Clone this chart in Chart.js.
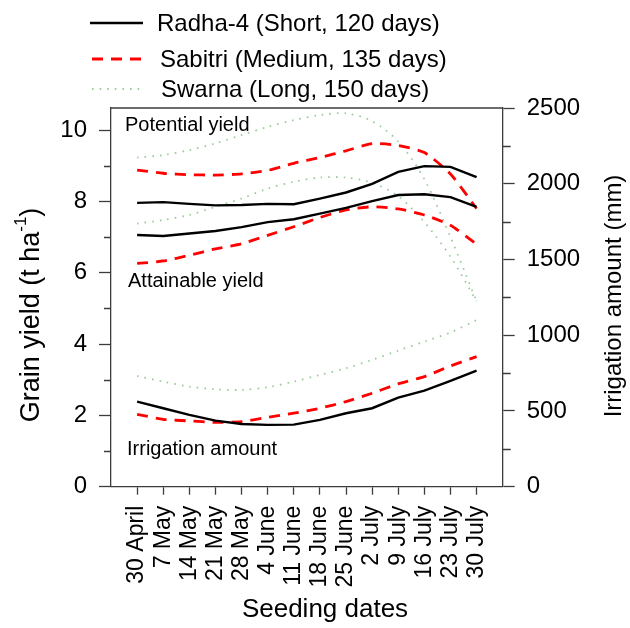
<!DOCTYPE html>
<html>
<head>
<meta charset="utf-8">
<script src="https://cdn.jsdelivr.net/npm/chart.js@4"></script>
<style>
  body { margin: 0; background: #fff; }
  canvas { display: block; }
</style>
</head>
<body>
<canvas id="chart" width="630" height="628"></canvas>
<script>
// seeding dates on the x axis
const dates = ['30 April', '7 May', '14 May', '21 May', '28 May', '4 June', '11 June',
  '18 June', '25 June', '2 July', '9 July', '16 July', '23 July', '30 July'];

// grain yield, t/ha (left axis)
const radhaPotential = [7.96, 7.98, 7.93, 7.89, 7.90, 7.93, 7.92, 8.08, 8.25, 8.49, 8.83, 8.99, 8.97, 8.68];
const radhaAttainable = [7.06, 7.03, 7.10, 7.17, 7.28, 7.42, 7.50, 7.66, 7.82, 8.01, 8.18, 8.20, 8.12, 7.85];
const sabitriPotential = [8.88, 8.79, 8.75, 8.74, 8.77, 8.87, 9.07, 9.23, 9.42, 9.62, 9.57, 9.37, 8.77, 7.80];
const sabitriAttainable = [6.26, 6.33, 6.49, 6.67, 6.81, 7.05, 7.29, 7.55, 7.76, 7.85, 7.79, 7.62, 7.33, 6.80];
const swarnaPotential = [9.23, 9.30, 9.44, 9.63, 9.86, 10.09, 10.28, 10.42, 10.47, 10.25, 9.68, 8.62, 7.00, 5.20];
const swarnaAttainable = [7.38, 7.48, 7.62, 7.85, 8.08, 8.36, 8.55, 8.67, 8.67, 8.52, 8.15, 7.42, 6.45, 5.20];

// irrigation amount, mm (right axis)
const radhaIrrigation = [562, 518, 474, 436, 414, 408, 410, 441, 485, 518, 588, 634, 698, 766];
const sabitriIrrigation = [478, 445, 434, 425, 429, 458, 485, 518, 562, 617, 679, 727, 797, 859];
const swarnaIrrigation = [731, 694, 661, 643, 639, 657, 694, 738, 782, 837, 899, 958, 1018, 1101];

// axis ticks
const yieldTicks = [0, 2, 4, 6, 8, 10];
const yieldMinorTicks = [1, 3, 5, 7, 9];
const irrigationTicks = [0, 500, 1000, 1500, 2000, 2500];
const irrigationMinorTicks = [250, 750, 1250, 1750, 2250];

const legendLabels = ['Radha-4 (Short, 120 days)', 'Sabitri (Medium, 135 days)', 'Swarna (Long, 150 days)'];

const FONT = "'Liberation Sans', Arial, sans-serif";
const AXIS = '#3c3c3c';

const styles = {
  radha: { borderColor: '#000000', borderWidth: 2.4, borderDash: [], tension: 0 },
  sabitri: { borderColor: '#ff0000', borderWidth: 2.8, borderDash: [11, 8], tension: 0.2 },
  swarna: { borderColor: 'rgba(150, 200, 150, 0.95)', borderWidth: 1.8, borderDash: [1.6, 6], tension: 0.3 }
};

function points(arr) {
  return arr.map((v, i) => ({ x: i, y: v }));
}

function line(data, st, axis) {
  return Object.assign({ data: points(data), yAxisID: axis, pointRadius: 0, fill: false }, st);
}

const datasets = [
  line(radhaPotential, styles.radha, 'y'),
  line(radhaAttainable, styles.radha, 'y'),
  line(radhaIrrigation, styles.radha, 'y1'),
  line(sabitriPotential, styles.sabitri, 'y'),
  line(sabitriAttainable, styles.sabitri, 'y'),
  line(sabitriIrrigation, styles.sabitri, 'y1'),
  line(swarnaPotential, styles.swarna, 'y'),
  line(swarnaAttainable, styles.swarna, 'y'),
  line(swarnaIrrigation, styles.swarna, 'y1')
];

function rotatedText(ctx, x, y, draw) {
  ctx.save();
  ctx.translate(x, y);
  ctx.rotate(-Math.PI / 2);
  draw();
  ctx.restore();
}

// frame, minor ticks, legend, labels inside the plot and axis titles
const decorations = {
  id: 'decorations',
  afterDraw(chart) {
    const ctx = chart.ctx;
    const a = chart.chartArea;
    const y = chart.scales.y, y1 = chart.scales.y1;
    ctx.save();

    // top edge of the box
    ctx.strokeStyle = AXIS;
    ctx.lineWidth = 1.3;
    ctx.beginPath();
    ctx.moveTo(a.left, a.top);
    ctx.lineTo(a.right, a.top);
    ctx.stroke();

    // minor ticks
    ctx.beginPath();
    yieldMinorTicks.forEach(v => {
      const py = Math.round(y.getPixelForValue(v)) + 0.5;
      ctx.moveTo(a.left, py);
      ctx.lineTo(a.left - 7, py);
    });
    irrigationMinorTicks.forEach(v => {
      const py = Math.round(y1.getPixelForValue(v)) + 0.5;
      ctx.moveTo(a.right, py);
      ctx.lineTo(a.right + 8, py);
    });
    ctx.stroke();

    // legend
    const rows = [
      { st: styles.radha, ly: 23, ty: 24, x0: 90, x1: 143, tx: 157 },
      { st: styles.sabitri, ly: 59, ty: 60, x0: 92, x1: 145, tx: 160 },
      { st: styles.swarna, ly: 89, ty: 90, x0: 92, x1: 145, tx: 161 }
    ];
    ctx.font = '24px ' + FONT;
    ctx.textBaseline = 'middle';
    ctx.textAlign = 'left';
    rows.forEach((r, i) => {
      ctx.strokeStyle = r.st.borderColor;
      ctx.lineWidth = r.st.borderWidth;
      ctx.setLineDash(r.st.borderDash);
      ctx.beginPath();
      ctx.moveTo(r.x0, r.ly);
      ctx.lineTo(r.x1, r.ly);
      ctx.stroke();
      ctx.setLineDash([]);
      ctx.fillStyle = '#000';
      ctx.fillText(legendLabels[i], r.tx, r.ty);
    });

    // labels inside the plot
    ctx.font = '20px ' + FONT;
    ctx.fillText('Potential yield', 125, 125);
    ctx.fillText('Attainable yield', 128, 281);
    ctx.fillText('Irrigation amount', 127, 449);

    // x axis title
    ctx.font = '26px ' + FONT;
    ctx.textAlign = 'center';
    ctx.fillText('Seeding dates', 325, 610);

    // right axis title
    rotatedText(ctx, 614, 296, () => {
      ctx.font = '24px ' + FONT;
      ctx.textAlign = 'center';
      ctx.fillText('Irrigation amount (mm)', 0, 0);
    });

    // left axis title with superscript
    rotatedText(ctx, 32, 315, () => {
      const main = 'Grain yield (t ha';
      const sup = '-1';
      ctx.font = '27px ' + FONT;
      const wMain = ctx.measureText(main).width;
      const wClose = ctx.measureText(')').width;
      ctx.font = '17px ' + FONT;
      const wSup = ctx.measureText(sup).width;
      let cx = -(wMain + wSup + wClose) / 2;
      ctx.textAlign = 'left';
      ctx.font = '27px ' + FONT;
      ctx.fillText(main, cx, 0);
      cx += wMain;
      ctx.font = '17px ' + FONT;
      ctx.fillText(sup, cx, -11);
      cx += wSup;
      ctx.font = '27px ' + FONT;
      ctx.fillText(')', cx, 0);
    });

    ctx.restore();
  }
};

new Chart(document.getElementById('chart'), {
  type: 'line',
  data: { datasets },
  plugins: [decorations],
  options: {
    responsive: false,
    animation: false,
    layout: { padding: { top: 108 } },
    plugins: { legend: { display: false }, tooltip: { enabled: false } },
    scales: {
      x: {
        type: 'linear',
        min: -1,
        max: 14,
        afterBuildTicks: s => { s.ticks = dates.map((d, i) => ({ value: i })); },
        afterFit: s => { s.height = 141.3; },
        ticks: {
          callback: v => dates[v],
          minRotation: 90,
          maxRotation: 90,
          autoSkip: false,
          padding: 11,
          color: '#000',
          font: { family: FONT, size: 23 }
        },
        grid: { drawOnChartArea: false, tickLength: 8, tickColor: AXIS, tickWidth: 1.3 },
        border: { color: AXIS, width: 1.3 }
      },
      y: {
        position: 'left',
        min: 0,
        max: 10.62,
        afterBuildTicks: s => { s.ticks = yieldTicks.map(v => ({ value: v })); },
        afterFit: s => { s.width = 111; },
        ticks: { padding: 12, color: '#000', font: { family: FONT, size: 24 } },
        grid: { drawOnChartArea: false, tickLength: 12, tickColor: AXIS, tickWidth: 1.3 },
        border: { color: AXIS, width: 1.3 }
      },
      y1: {
        position: 'right',
        min: 0,
        max: 2500,
        afterBuildTicks: s => { s.ticks = irrigationTicks.map(v => ({ value: v })); },
        afterFit: s => { s.width = 127.3; },
        ticks: {
          callback: v => String(v),
          padding: 12,
          color: '#000',
          font: { family: FONT, size: 24 }
        },
        grid: { drawOnChartArea: false, tickLength: 12, tickColor: AXIS, tickWidth: 1.3 },
        border: { color: AXIS, width: 1.3 }
      }
    }
  }
});
</script>
</body>
</html>
